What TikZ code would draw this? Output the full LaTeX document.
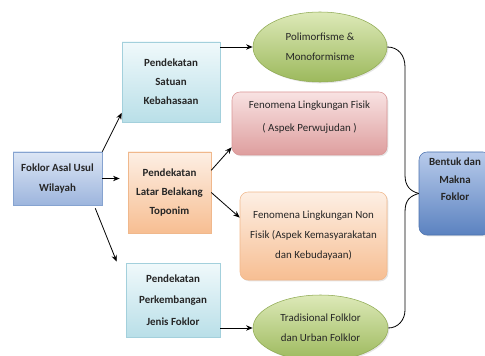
\documentclass[tikz,border=0pt]{standalone}
\usepackage{fontspec}
\setmainfont{Carlito}
\usepackage{tikz}
\usetikzlibrary{arrows.meta, positioning, shapes.geometric, shadows}
\usepackage{xcolor}

\definecolor{asaltop}{HTML}{DCE6F5}
\definecolor{asalbot}{HTML}{9DB5DD}
\definecolor{asalline}{HTML}{86A3D0}
\definecolor{cyantop}{HTML}{F0F9FB}
\definecolor{cyanbot}{HTML}{B9DFE8}
\definecolor{cyanline}{HTML}{A3D0DC}
\definecolor{peachtop}{HTML}{FDEFE4}
\definecolor{peachbot}{HTML}{F7BE92}
\definecolor{peachline}{HTML}{F0B88C}
\definecolor{pinktop}{HTML}{F8E2E2}
\definecolor{pinkbot}{HTML}{DE9E9E}
\definecolor{pinkline}{HTML}{D99696}
\definecolor{greentop}{HTML}{DDE9B8}
\definecolor{greenbot}{HTML}{9CB95C}
\definecolor{greenline}{HTML}{8FAA52}
\definecolor{bluetop}{HTML}{B8CBEB}
\definecolor{bluebot}{HTML}{5B82C0}
\definecolor{blueline}{HTML}{4C72AE}

\begin{document}
\begin{tikzpicture}[
        x=0.75pt, y=-0.75pt,
        every node/.style={font=\fontsize{8.2}{15}\selectfont, text=black!85},
        every label/.style={align=center},
        box/.style={
            rectangle,
            draw,
            align=center,
            inner sep=0pt,
            drop shadow={opacity=0.2, shadow xshift=1pt, shadow yshift=-1pt}
        },
        approach/.style={
            box,
            font=\fontsize{8.2}{15}\selectfont\bfseries,
            draw=cyanline,
            top color=cyantop,
            bottom color=cyanbot
        },
        phenomenon/.style={
            box,
            rounded corners=6pt
        },
        outcome/.style={
            ellipse,
            draw=greenline,
            align=center,
            inner sep=0pt,
            top color=greentop,
            bottom color=greenbot,
            minimum width=100.5pt,
            drop shadow={opacity=0.2, shadow xshift=1pt, shadow yshift=-1pt}
        },
        arrow/.style={
            -{Stealth[length=5pt, width=4pt]},
            semithick
        },
        brace/.style={
            semithick
        }
    ]

    \useasboundingbox (0,0) rectangle (485,356);
    \clip (0,0) rectangle (485,356);

    % Start
    \node[box, font=\fontsize{8.2}{15}\selectfont\bfseries,
          draw=asalline, top color=asaltop, bottom color=asalbot,
          minimum width=66.75pt, minimum height=39.75pt] (asal) at (57.5,178.5)
        {Foklor Asal Usul\\
         Wilayah};

    % Approaches
    \node[approach, minimum width=73.5pt, minimum height=60pt,
          font=\fontsize{8.2}{14.25}\selectfont\bfseries] (satuan) at (171,82)
        {Pendekatan\\
         Satuan\\
         Kebahasaan};

    \node[approach, draw=peachline, top color=peachtop, bottom color=peachbot,
          minimum width=62.25pt, minimum height=60.75pt,
          font=\fontsize{8.2}{14}\selectfont\bfseries] (toponim) at (169.5,192.5)
        {Pendekatan\\
         Latar Belakang\\
         Toponim};

    \node[approach, minimum width=70.5pt, minimum height=55.5pt,
          font=\fontsize{8.2}{16}\selectfont\bfseries] (perkembangan) at (173,300)
        {Pendekatan\\
         Perkembangan\\
         Jenis Foklor};

    % Outcomes
    \node[outcome, minimum height=52.5pt] (poli) at (320,47)
        {Polimorfisme \&\\
         Monoformisme};

    \node[phenomenon, draw=pinkline, top color=pinktop, bottom color=pinkbot,
          minimum width=116.25pt, minimum height=47.25pt,
          label={[yshift=5pt, font=\fontsize{8.2}{17}\selectfont]center:Fenomena Lingkungan Fisik\\( Aspek Perwujudan )}]
        (fisik) at (309.5,123.5) {};

    \node[phenomenon, draw=peachline, top color=peachtop, bottom color=peachbot,
          minimum width=110.25pt, minimum height=66pt] (nonfisik) at (313.5,236)
        {Fenomena Lingkungan Non\\
         Fisik (Aspek Kemasyarakatan\\
         dan Kebudayaan)};

    \node[outcome, minimum width=101.25pt, minimum height=49.5pt] (tradisional) at (320.5,328)
        {Tradisional Folklor\\
         dan Urban Folklor};

    % Result
    \node[phenomenon, draw=blueline, top color=bluetop, bottom color=bluebot,
          minimum width=54pt, minimum height=62.25pt,
          label={[yshift=10.5pt, font=\fontsize{8.2}{13}\selectfont\bfseries]center:Bentuk dan\\Makna\\Foklor}]
        (bentuk) at (455,193.5) {};

    % Arrows from start
    \draw[arrow] (asal.north east) -- (satuan.212);
    \draw[arrow, shorten >=6pt] (asal.east) -- (asal.east -| toponim.west);
    \draw[arrow] ([xshift=-5.25pt, yshift=-2.25pt]asal.south east)
        -- ([xshift=-6.75pt, yshift=0.75pt]perkembangan.north west);

    % Approach branches
    \draw[arrow] (satuan.east |- poli.west) -- (poli.west);
    \draw[arrow] (toponim.28) -- (fisik.197);
    \draw[arrow] (toponim.east) -- (nonfisik.166);
    \draw[arrow] (perkembangan.east |- tradisional.west) -- (tradisional.west);

    % Brace towards the result
    \draw[brace] (poli.east) .. controls (398,47) and (405,55) .. (405,67)
        -- (405,175) .. controls (405,186) and (410,191) .. (bentuk.west);
    \draw[brace] (tradisional.east) .. controls (398,328) and (405,320) .. (405,310)
        -- (405,212) .. controls (405,200) and (410,196) .. (bentuk.west);

\end{tikzpicture}
\end{document}
